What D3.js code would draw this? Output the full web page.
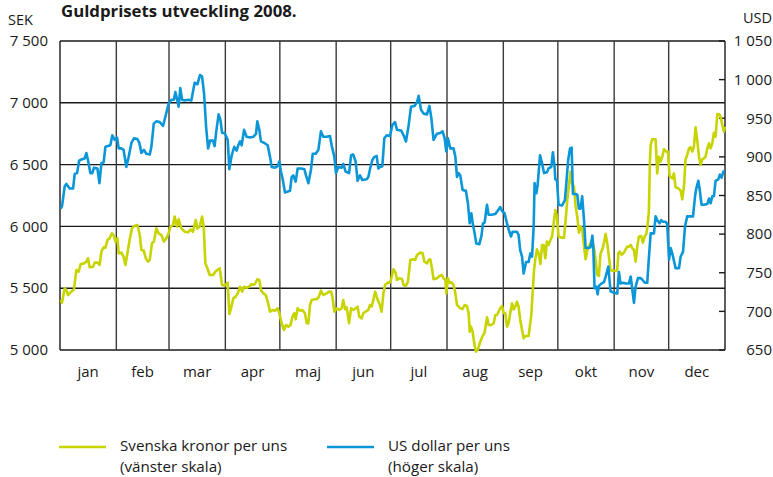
<!DOCTYPE html>
<html>
<head>
<meta charset="utf-8">
<script src="https://cdn.jsdelivr.net/npm/d3@7"></script>
<style>
  body { margin: 0; background: #fff; }
  svg text { font-family: "Open Sans", "DejaVu Sans", sans-serif; fill: #1a1a1a; }
</style>
</head>
<body>
<div id="chart"></div>
<script>
// day of year (2008) and price
const sekDays = [0.4,1.1,2.6,3.5,4.4,6.2,7.7,9.0,10.3,11.4,13.2,14.5,15.4,16.3,18.2,19.1,20.6,21.8,22.8,24.0,25.0,26.1,27.3,28.6,29.7,30.5,31.6,32.3,33.8,35.0,36.0,37.1,38.3,39.6,41.1,42.6,43.9,44.8,46.1,47.2,48.4,49.4,50.6,51.7,53.0,54.3,55.8,57.2,58.5,59.4,60.9,62.2,63.1,64.4,65.3,66.8,68.6,70.5,71.9,73.2,74.7,75.6,76.9,78.2,79.1,80.0,81.1,82.4,84.2,85.5,86.6,87.9,89.2,90.6,
  92.3,93.2,94.1,95.4,96.7,97.8,99.1,100.3,101.3,102.7,104.0,105.5,106.4,107.3,108.6,109.7,110.6,111.9,113.2,114.3,115.6,116.9,118.3,119.8,120.7,122.0,123.3,124.4,125.7,126.9,127.9,129.0,129.7,130.8,132.1,133.4,134.8,135.8,136.7,137.6,138.5,140.0,141.3,142.5,143.6,144.9,146.8,148.1,149.2,149.9,151.0,152.3,153.6,155.0,155.9,156.9,157.8,159.1,160.2,161.4,162.7,163.8,164.7,166.0,166.9,168.2,169.7,170.6,171.5,172.5,173.4,174.3,175.2,176.1,177.0,178.0,178.9,180.3,181.6,182.5,183.5,184.7,
  185.5,186.7,188.2,189.1,190.4,191.5,192.8,194.1,195.5,196.5,198.3,199.6,200.5,202.0,202.9,203.8,204.7,205.6,207.5,208.8,210.2,211.1,212.1,212.6,213.5,214.4,215.7,216.6,217.6,218.5,219.4,220.3,221.6,222.7,224.0,224.9,225.5,226.2,227.1,228.0,228.9,230.0,231.3,232.6,233.7,235.0,235.9,237.4,238.7,239.6,240.5,241.4,242.3,243.3,244.2,245.1,246.0,246.9,247.8,248.8,249.7,250.6,251.5,252.4,253.3,254.3,255.2,256.1,257.9,259.4,260.1,260.9,261.6,262.5,263.4,264.4,265.3,266.2,267.1,268.0,268.9,269.9,270.8,271.7,272.6,273.5,274.4,276.3,
  277.4,278.3,279.2,280.1,281.0,281.9,282.9,283.8,284.7,285.6,286.5,287.4,288.4,289.3,290.2,290.7,291.5,292.9,294.1,294.8,295.7,296.6,297.5,298.5,299.4,300.3,301.2,302.1,303.0,304.0,305.8,306.7,307.3,308.0,309.1,310.4,311.3,312.2,313.1,314.1,315.0,315.9,316.8,317.7,318.6,319.9,320.8,321.8,322.7,323.4,324.1,324.7,325.1,326.0,327.8,328.7,329.6,330.6,331.5,332.4,333.7,334.6,335.5,337.0,337.9,338.8,340.3,341.6,342.5,343.4,344.3,345.2,346.2,347.1,348.0,348.9,349.8,350.8,351.7,352.6,353.5,354.4,355.3,356.3,357.2,358.1,359.0,359.9,360.8,361.8,362.7,363.6,364.5,365.4,365.9];
const sekValues = [5405,5383,5499,5485,5445,5472,5491,5647,5634,5696,5701,5715,5742,5669,5674,5707,5707,5688,5796,5831,5828,5890,5903,5944,5922,5877,5903,5782,5788,5755,5688,5782,5890,5984,6006,6011,5930,5809,5804,5742,5715,5728,5863,5877,5984,5944,5930,5877,5903,5930,5998,6011,6079,5998,6057,5984,5957,5952,5976,5957,6052,5984,5998,6079,5998,5701,5661,5607,5607,5634,5647,5661,5526,5521,
  5545,5291,5337,5418,5432,5458,5512,5472,5512,5504,5512,5534,5526,5534,5572,5566,5485,5458,5445,5391,5310,5324,5318,5337,5297,5216,5162,5202,5189,5202,5270,5297,5248,5337,5318,5324,5297,5216,5216,5364,5405,5410,5410,5432,5480,5445,5458,5472,5472,5432,5310,5337,5324,5337,5405,5329,5345,5216,5337,5324,5337,5351,5270,5256,5297,5310,5324,5364,5351,5405,5472,5432,5391,5364,5310,5458,5526,5545,5545,5588,5653,5626,
  5566,5580,5574,5526,5518,5553,5728,5734,5728,5769,5788,5782,5715,5701,5728,5734,5661,5572,5580,5599,5607,5580,5566,5458,5580,5545,5545,5526,5458,5364,5351,5337,5332,5364,5356,5297,5148,5189,5148,5054,4987,5005,5067,5113,5140,5264,5202,5202,5216,5283,5283,5310,5337,5356,5297,5297,5189,5216,5297,5378,5329,5351,5391,5351,5243,5162,5094,5113,5113,5283,5458,5647,5734,5814,5782,5696,5850,5850,5742,5877,5850,5890,5917,6025,6133,6079,5917,5909,
  5909,6052,6214,6335,6443,6343,6322,6160,6079,5949,5998,5984,5836,5734,5809,5831,5850,5890,5809,5728,5607,5599,5782,5814,5868,5939,5863,5755,5647,5642,5639,5647,5782,5796,5769,5788,5814,5836,5836,5850,5823,5809,5715,5836,5917,5922,5868,5917,5939,6011,6119,6537,6659,6705,6705,6429,6564,6524,6564,6624,6605,6605,6408,6389,6429,6316,6308,6289,6219,6322,6543,6578,6632,6640,6605,6645,6802,6686,6564,6497,6543,6551,6564,6632,6672,6632,6672,6758,6726,6909,6909,6888,6820,6767,6807];

const usdDays = [0.4,1.1,2.6,3.5,5.3,7.2,8.1,9.4,10.5,12.1,13.6,14.5,15.4,16.7,17.8,18.7,20.6,21.7,22.8,24.0,25.0,26.4,27.7,28.8,30.1,31.4,32.3,33.8,35.0,36.5,37.8,39.3,40.7,42.6,43.7,44.8,46.2,47.5,49.4,50.3,51.6,53.0,54.9,56.7,58.0,59.8,61.3,62.7,63.5,64.6,65.3,66.2,67.2,68.6,70.5,72.3,74.1,75.6,77.1,78.2,79.3,80.4,81.5,82.6,84.2,85.1,86.0,87.3,88.3,89.2,90.6,
  92.3,93.2,94.5,95.9,97.2,98.1,99.1,100.0,101.3,102.7,104.6,106.4,107.9,108.6,109.7,110.6,112.5,114.3,115.6,116.5,118.3,119.8,120.7,121.6,122.5,123.8,125.1,126.6,127.5,128.4,129.7,130.8,132.6,134.5,135.4,136.7,138.1,139.1,140.7,142.2,143.6,144.9,146.8,148.6,149.5,151.0,151.9,153.2,155.0,155.9,157.2,159.1,160.2,161.4,162.7,163.8,165.1,166.4,168.8,169.7,170.6,171.9,173.0,174.3,175.2,176.1,177.4,178.5,179.8,181.6,182.9,184.4,
  185.5,187.8,189.1,190.4,191.9,193.2,195.2,196.5,197.4,198.7,200.1,202.0,203.3,204.4,205.6,207.5,209.3,210.6,211.7,212.6,213.5,214.8,216.6,217.6,218.5,219.4,220.3,221.6,223.4,224.5,225.5,226.4,227.3,228.2,229.1,230.8,231.9,232.8,233.7,235.0,235.9,237.4,239.6,241.1,242.3,243.3,244.7,246.0,247.3,248.2,249.1,251.5,252.4,253.3,254.3,255.2,256.5,257.9,258.9,259.8,260.7,261.2,262.2,262.9,264.2,265.3,266.4,268.0,268.9,270.4,271.3,272.2,272.6,273.5,274.4,276.3,
  277.9,278.6,279.7,280.7,281.6,282.3,283.8,284.7,285.6,286.5,287.4,288.4,289.3,290.7,292.0,293.0,293.5,294.2,295.2,295.9,296.6,297.9,299.4,300.3,301.8,303.0,304.9,306.7,307.6,308.5,310.0,311.3,313.1,314.1,315.0,315.9,316.8,318.1,319.6,320.5,321.9,323.2,324.1,325.1,326.9,327.8,328.7,330.0,330.9,331.9,333.3,334.2,335.2,336.1,337.0,338.8,340.7,341.6,342.9,344.0,345.2,346.5,348.4,349.5,350.2,351.3,352.0,353.1,354.4,356.3,357.2,358.1,359.0,359.9,360.8,362.3,363.2,364.1,365.1,365.9];
const usdValues = [833,836,862,865,859,859,878,879,895,897,898,905,896,879,879,886,885,866,892,893,913,914,915,928,922,925,911,911,909,887,900,918,924,923,918,905,909,904,903,913,943,946,945,940,952,969,974,974,984,973,965,989,974,973,974,973,996,994,1006,1004,982,939,911,921,921,914,933,955,948,931,931,
  922,884,902,913,908,915,920,915,935,926,925,926,930,946,935,920,918,915,900,887,886,888,894,881,872,854,855,856,874,876,868,885,885,884,876,866,883,904,904,909,933,926,926,927,915,900,879,887,886,891,881,879,902,903,894,869,876,870,871,874,884,896,900,901,885,887,888,924,928,927,941,945,
  935,934,928,920,941,965,966,971,979,961,956,955,966,950,922,930,931,933,924,907,924,911,911,900,874,879,876,857,856,840,814,827,812,801,788,787,797,814,815,838,825,825,826,831,835,830,827,814,803,797,803,803,799,779,771,749,764,764,775,771,810,866,853,864,902,892,879,880,885,887,906,887,871,870,838,837,
  844,864,896,911,912,852,852,851,833,833,849,818,782,782,783,798,784,730,732,722,733,736,738,745,758,726,724,723,751,736,737,736,736,745,728,711,732,743,743,741,737,737,769,801,801,823,818,814,818,816,816,813,767,782,775,756,756,771,777,810,823,823,823,849,859,869,859,838,838,839,846,840,849,849,869,871,877,873,881,882];

const monthLabels = ["jan", "feb", "mar", "apr", "maj", "jun", "jul", "aug", "sep", "okt", "nov", "dec"];
const sekTicks = [5000, 5500, 6000, 6500, 7000, 7500];
const usdTicks = [650, 700, 750, 800, 850, 900, 950, 1000, 1050];
const legendLabels = [
  ["Svenska kronor per uns", "(vänster skala)"],
  ["US dollar per uns", "(höger skala)"]
];

const width = 773, height = 477;
const margin = { top: 41, right: 48, bottom: 127, left: 60 };
const innerW = width - margin.left - margin.right;
const innerH = height - margin.top - margin.bottom;
const sekColor = "#c8d400";
const usdColor = "#0a96d7";

const svg = d3.select("#chart").append("svg")
  .attr("width", width)
  .attr("height", height);

const start = new Date(2008, 0, 1);
const end = new Date(2009, 0, 1);
const toDate = d => new Date(start.getTime() + d * 864e5);

const x = d3.scaleTime().domain([start, end]).range([margin.left, margin.left + innerW]);
const ySek = d3.scaleLinear().domain([5000, 7500]).range([margin.top + innerH, margin.top]);
const yUsd = d3.scaleLinear().domain([650, 1050]).range([margin.top + innerH, margin.top]);

const fmt = d3.formatLocale({ decimal: ",", thousands: " ", grouping: [3], currency: ["", ""] }).format(",d");

// horizontal grid (left scale)
svg.append("g")
  .selectAll("line")
  .data(sekTicks)
  .join("line")
  .attr("x1", margin.left)
  .attr("x2", margin.left + innerW)
  .attr("y1", d => ySek(d))
  .attr("y2", d => ySek(d))
  .attr("stroke", "#1a1a1a")
  .attr("stroke-width", 1.4);

// vertical month grid
const months = d3.timeMonth.range(start, d3.timeMonth.offset(end, 1));
svg.append("g")
  .selectAll("line")
  .data(months)
  .join("line")
  .attr("x1", d => x(d))
  .attr("x2", d => x(d))
  .attr("y1", margin.top)
  .attr("y2", margin.top + innerH)
  .attr("stroke", (d, i) => (i === 0 || i === 12) ? "#1a1a1a" : "#3a3a3a")
  .attr("stroke-width", 1.4);

// right axis ticks (inward)
svg.append("g")
  .selectAll("line")
  .data(usdTicks)
  .join("line")
  .attr("x1", margin.left + innerW - 6)
  .attr("x2", margin.left + innerW)
  .attr("y1", d => yUsd(d))
  .attr("y2", d => yUsd(d))
  .attr("stroke", "#1a1a1a")
  .attr("stroke-width", 1.4);

// left tick labels
svg.append("g")
  .selectAll("text")
  .data(sekTicks)
  .join("text")
  .attr("x", 48)
  .attr("y", d => ySek(d))
  .attr("dy", "0.35em")
  .attr("text-anchor", "end")
  .style("font-size", "15px")
  .text(d => fmt(d));

// right tick labels
svg.append("g")
  .selectAll("text")
  .data(usdTicks)
  .join("text")
  .attr("x", 772)
  .attr("y", d => yUsd(d))
  .attr("dy", "0.35em")
  .attr("text-anchor", "end")
  .style("font-size", "15px")
  .text(d => fmt(d));

// month labels
svg.append("g")
  .selectAll("text")
  .data(monthLabels)
  .join("text")
  .attr("x", (d, i) => (x(new Date(2008, i, 1)) + x(new Date(2008, i + 1, 1))) / 2)
  .attr("y", 372)
  .attr("dy", "0.35em")
  .attr("text-anchor", "middle")
  .style("font-size", "15px")
  .text(d => d);

// unit labels and title
svg.append("text").attr("x", 8).attr("y", 25).style("font-size", "14.5px").text("SEK");
svg.append("text").attr("x", 772).attr("y", 23).attr("text-anchor", "end").style("font-size", "14.5px").text("USD");
svg.append("text").attr("x", 61).attr("y", 17)
  .style("font-size", "16.8px").style("font-weight", "bold")
  .text("Guldprisets utveckling 2008.");

// lines
const sekData = sekDays.map((d, i) => ({ date: toDate(d), value: sekValues[i] }));
const usdData = usdDays.map((d, i) => ({ date: toDate(d), value: usdValues[i] }));

svg.append("path")
  .datum(sekData)
  .attr("fill", "none")
  .attr("stroke", sekColor)
  .attr("stroke-width", 2.6)
  .attr("stroke-linejoin", "round")
  .attr("d", d3.line().x(d => x(d.date)).y(d => ySek(d.value)));

svg.append("path")
  .datum(usdData)
  .attr("fill", "none")
  .attr("stroke", usdColor)
  .attr("stroke-width", 2.6)
  .attr("stroke-linejoin", "round")
  .attr("d", d3.line().x(d => x(d.date)).y(d => yUsd(d.value)));

// legend
const legendX = [59, 327];
const legendColors = [sekColor, usdColor];
const legend = svg.append("g")
  .selectAll("g")
  .data(legendLabels)
  .join("g")
  .attr("transform", (d, i) => `translate(${legendX[i]}, 447)`);

legend.append("line")
  .attr("x1", 0)
  .attr("x2", 47)
  .attr("stroke", (d, i) => legendColors[i])
  .attr("stroke-width", 2.6);

legend.append("text")
  .attr("x", 61)
  .attr("y", -1)
  .attr("dy", "0.35em")
  .style("font-size", "15.2px")
  .text(d => d[0]);

legend.append("text")
  .attr("x", 61)
  .attr("y", 19.6)
  .attr("dy", "0.35em")
  .style("font-size", "15.2px")
  .text(d => d[1]);
</script>
</body>
</html>
